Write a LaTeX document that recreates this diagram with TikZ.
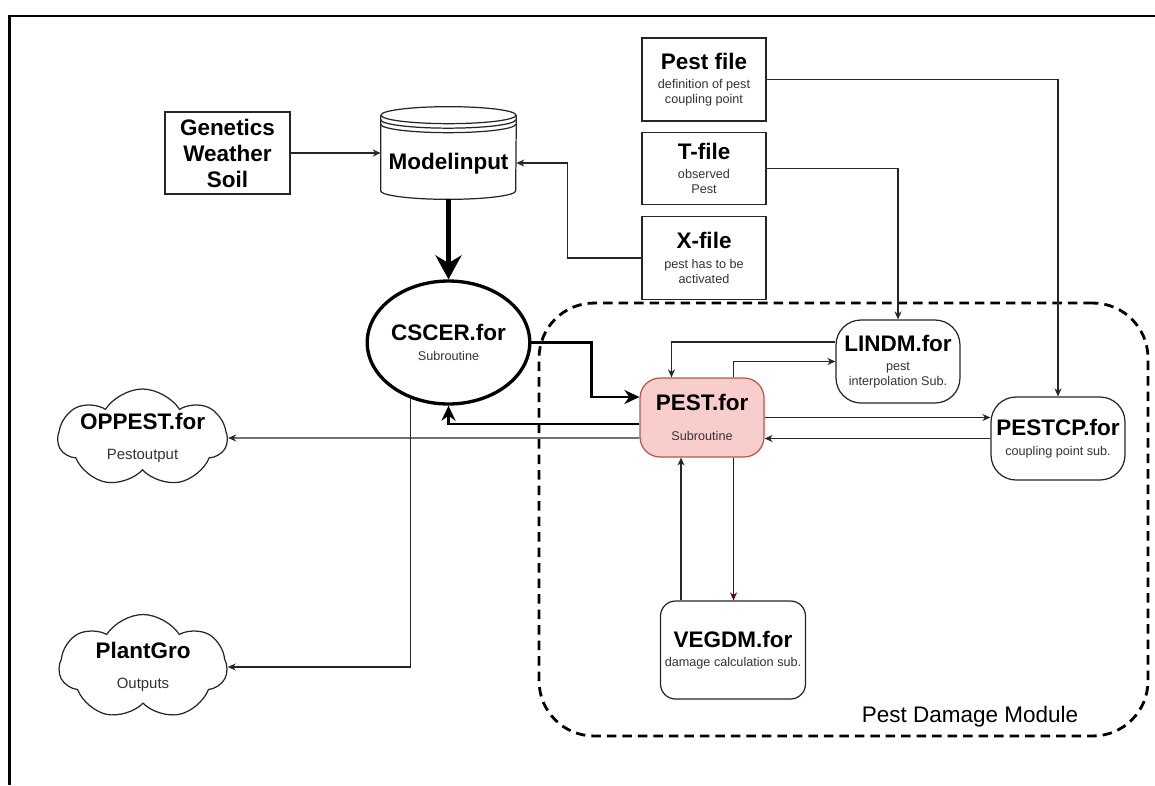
\documentclass[tikz,border=0pt]{standalone}
\usepackage{fontspec}
\setmainfont{Liberation Sans}
\usepackage{tikz}
\usetikzlibrary{positioning,calc,arrows.meta,shapes.geometric,shapes.symbols}
\definecolor{pestFill}{HTML}{F8CECC}
\definecolor{pestLine}{HTML}{B85450}
\definecolor{darkRed}{HTML}{660000}
\definecolor{subGray}{HTML}{333333}
\newcommand{\ttl}[1]{{\fontsize{12.8}{15}\selectfont\bfseries\color{black}#1}}
\tikzset{
  fileBox/.style={
    rectangle,
    draw=black!85,
    line width=0.7pt,
    fill=white,
    minimum width=2.48cm,
    inner sep=0pt,
    align=center,
    text=subGray,
    font=\fontsize{7.2}{8.2}\selectfont
  },
  subBox/.style={
    fileBox,
    rounded corners=0.5cm,
    minimum height=1.66cm
  },
  pestBox/.style={
    subBox,
    rounded corners=0.4cm,
    draw=pestLine,
    fill=pestFill
  },
  mainCircle/.style={
    ellipse,
    draw=black,
    line width=1.9pt,
    fill=white,
    minimum width=2.98cm,
    minimum height=2.46cm,
    inner sep=0pt,
    align=center,
    text=subGray,
    font=\fontsize{7.2}{8.2}\selectfont
  },
  outCloud/.style={
    cloud,
    cloud puffs=7,
    cloud puff arc=115,
    cloud ignores aspect,
    draw=black!85,
    line width=0.7pt,
    minimum width=3.38cm,
    minimum height=1.96cm,
    inner xsep=-12pt,
    inner ysep=-10pt,
    align=center,
    text=subGray,
    font=\fontsize{8.5}{10}\selectfont
  },
  storeLine/.style={
    draw=black!85,
    line width=0.7pt,
    fill=white
  },
  moduleBox/.style={
    rectangle,
    rounded corners=1.1cm,
    draw=black,
    line width=1.6pt,
    dash pattern=on 0.19cm off 0.12cm,
    minimum width=12.18cm,
    minimum height=8.66cm
  },
  arrowLine/.style={
    -{Stealth[length=0.16cm,width=0.14cm]},
    draw=black!85,
    line width=0.7pt
  },
  thickArrow/.style={
    -{Stealth[length=0.3cm,width=0.28cm]},
    line width=1.6pt
  },
  heavyArrow/.style={
    -{Stealth[length=0.48cm,width=0.52cm]},
    line width=2.8pt
  }
}
\begin{document}
\begin{tikzpicture}[x=0.02cm,y=-0.02cm]
  \useasboundingbox (0,0) rectangle (1155,785);
  \draw[line width=1.5pt] (9.6,785) -- (9.6,16) -- (1155,16);

  \node[moduleBox] (module) at (843.5,519.5) {};
  \node[font=\fontsize{12.8}{15}\selectfont] (modlabel) at (970,717) {Pest Damage Module};

  \node[fileBox, minimum width=2.5cm, minimum height=1.64cm, text=black,
        font=\fontsize{12.8}{14.8}\selectfont\bfseries] (gen) at (227.5,153) {Genetics\\Weather\\Soil};

  \node[minimum width=2.7cm, minimum height=1.84cm, inner sep=0pt] (mi) at (448.5,153) {};
  \draw[storeLine] ($(mi.north west)+(0,8.5)$) -- ($(mi.south west)+(0,-8.5)$)
    arc[start angle=180, end angle=0, x radius=67.5, y radius=8.5] -- ($(mi.north east)+(0,8.5)$);
  \draw[storeLine] ($(mi.north)+(0,8.5)$) ellipse[x radius=67.5, y radius=8.5];
  \draw[storeLine, fill=none] ($(mi.north west)+(0,13)$) arc[start angle=180, end angle=0, x radius=67.5, y radius=8.5];
  \draw[storeLine, fill=none] ($(mi.north west)+(0,17.5)$) arc[start angle=180, end angle=0, x radius=67.5, y radius=8.5];
  \node[font=\fontsize{12.8}{15}\selectfont\bfseries] (milabel) at ($(mi.center)+(0,11)$) {Modelinput};

  \node[mainCircle] (cscer) at (448.5,342.5) {\ttl{CSCER.for}\\[3pt]Subroutine};

  \node[fileBox, minimum height=1.66cm] (pestfile) at (704,79.5) {\ttl{Pest file}\\[3pt]definition of pest\\coupling point};
  \node[fileBox, minimum height=1.44cm, below=0.2cm of pestfile] (tfile) {\ttl{T-file}\\[3pt]observed\\Pest};
  \node[fileBox, minimum height=1.66cm, below=0.22cm of tfile] (xfile) {\ttl{X-file}\\[3pt]pest has to be\\activated};

  \node[subBox] (lindm) at (898,361.5) {\ttl{LINDM.for}\\[3pt]pest\\interpolation Sub.};
  \node[pestBox, minimum height=1.58cm] (pest) at (702,417.5) {\ttl{PEST.for}\\[9pt]Subroutine};
  \node[subBox, minimum width=2.68cm] (pestcp) at (1058,438.5) {\ttl{PESTCP.for}\\[3pt]coupling point sub.};
  \node[subBox, rounded corners=0.3cm, minimum width=2.9cm, minimum height=1.96cm] (vegdm) at (733,650) {\ttl{VEGDM.for}\\[3pt]damage calculation sub.};

  \node[outCloud] (oppest) at (142.5,438) {\ttl{OPPEST.for}\\[7pt]Pestoutput};
  \node[outCloud, minimum width=3.36cm, minimum height=2.1cm] (plantgro) at (143,667) {\ttl{PlantGro}\\[7pt]Outputs};

  \coordinate (vegUp) at ($(vegdm.north)+(-52,0)$);
  \coordinate (pestDown) at ($(pest.south)+(31.5,0)$);

  \draw[arrowLine] (gen) -- (mi);
  \draw[heavyArrow] (mi.south) -- (cscer.north);
  \draw[arrowLine] (xfile.west) -- ++(-74,0) |- ($(mi.east)+(0,10)$);
  \draw[arrowLine] (tfile.east) -| (lindm.north);
  \draw[arrowLine] (pestfile.east) -| (pestcp.north);
  \draw[thickArrow] (cscer.east) -- ++(60,0) |- ($(pest.west)+(0,-20.5)$);
  \draw[thickArrow] ($(pest.west)+(0,6.5)$) -| (cscer.south);
  \draw[arrowLine] ($(pest.west)+(0,20.5)$) -- (oppest.east);
  \draw[arrowLine] (cscer.236) |- (plantgro.east);
  \draw[arrowLine] ($(lindm.west)+(0,-19.5)$) -| ($(pest.north)+(-30.5,0)$);
  \draw[arrowLine] ($(pest.north)+(31.5,0)$) |- (lindm.west);
  \draw[arrowLine] (pest.east) -- (pest.east -| pestcp.west);
  \draw[arrowLine] (pestcp.west) -- (pestcp.west -| pest.east);
  \draw[arrowLine] (vegUp) -- (vegUp |- pest.south);
  \draw[arrowLine, draw=darkRed] (pestDown) -- (pestDown |- vegdm.north);
\end{tikzpicture}
\end{document}
